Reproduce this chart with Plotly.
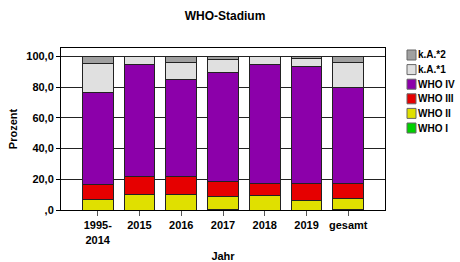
import plotly.graph_objects as go

categories = ["1995-<br>2014", "2015", "2016", "2017", "2018", "2019", "gesamt"]
who_i   = [0, 0, 0, 0.6, 0, 0, 0.2]
who_ii  = [7.0, 10.2, 9.8, 8.3, 9.4, 6.5, 7.0]
who_iii = [9.7, 11.5, 12.2, 9.6, 7.6, 10.5, 9.8]
who_iv  = [60.0, 73.3, 63.2, 71.1, 78.0, 76.4, 62.7]
ka1     = [18.5, 5.0, 11.1, 8.2, 5.0, 5.1, 16.4]
ka2     = [4.8, 0, 3.7, 2.2, 0, 1.5, 3.9]

series_names = ["WHO I", "WHO II", "WHO III", "WHO IV", "k.A.*1", "k.A.*2"]
series_values = [who_i, who_ii, who_iii, who_iv, ka1, ka2]
series_colors = ["#00d000", "#e0e000", "#e60000", "#8c00aa", "#e0e0e0", "#a0a0a0"]

y_tickvals = [0, 20, 40, 60, 80, 100]
y_ticktext = [",0", "20,0", "40,0", "60,0", "80,0", "100,0"]

font = "Liberation Sans"
W, H = 460, 262
ML, MR, MT, MB = 61, 75, 48, 52
PW, PH = W - ML - MR, H - MT - MB

def px2x(px):
    return (px - ML) / PW

def px2y(py):
    return (H - MB - py) / PH

fig = go.Figure()
for name, vals, col in zip(series_names, series_values, series_colors):
    fig.add_trace(go.Bar(
        x=categories, y=vals, name=name,
        marker=dict(color=col, line=dict(color="#222222", width=1)),
        width=0.74, showlegend=False,
    ))

# custom legend (top entry = last series)
shapes = []
annotations = []
row_y0 = 55.0
row_step = 14.6
for i, (name, col) in enumerate(reversed(list(zip(series_names, series_colors)))):
    cy = row_y0 + i * row_step
    shapes.append(dict(type="rect", xref="paper", yref="paper",
                       x0=px2x(407), x1=px2x(416), y0=px2y(cy + 5), y1=px2y(cy - 5),
                       fillcolor=col, line=dict(color="#666666", width=1)))
    annotations.append(dict(xref="paper", yref="paper", x=px2x(416), y=px2y(cy),
                            xanchor="left", yanchor="middle", showarrow=False,
                            text="<b>%s</b>" % name,
                            font=dict(family=font, size=10, color="black")))

fig.update_layout(
    width=W, height=H,
    barmode="stack",
    paper_bgcolor="white", plot_bgcolor="white",
    margin=dict(l=ML, r=MR, t=MT, b=MB, autoexpand=False),
    title=dict(text="<b>WHO-Stadium</b>", x=225 / W, xanchor="center", y=1 - 16 / H, yanchor="middle",
               font=dict(family=font, size=12, color="black")),
    font=dict(family=font, size=11, color="black"),
    showlegend=False,
    shapes=shapes,
    annotations=annotations,
    xaxis=dict(range=[-0.88, 6.88], showline=True, linecolor="black", mirror=True,
               ticks="outside", ticklen=5, tickcolor="#555555", automargin=False,
               tickvals=categories, ticktext=["<b>%s</b>" % c for c in categories],
               tickfont=dict(family=font, size=11, color="black"),
               title=dict(text="<b>Jahr</b>", font=dict(family=font, size=11), standoff=8)),
    yaxis=dict(range=[0, 105.5], showline=True, linecolor="black", mirror=True,
               tickvals=y_tickvals, ticktext=["<b>%s</b>" % t for t in y_ticktext],
               ticks="outside", ticklen=4, tickcolor="black", automargin=False,
               showgrid=True, gridcolor="#222222", gridwidth=1,
               tickfont=dict(family=font, size=11, color="black"),
               title=dict(text="<b>Prozent</b>", font=dict(family=font, size=11), standoff=6)),
)

fig.write_html("out.html", config={"displayModeBar": False},
               post_script="document.body.style.margin='0';document.body.style.overflow='hidden';")
